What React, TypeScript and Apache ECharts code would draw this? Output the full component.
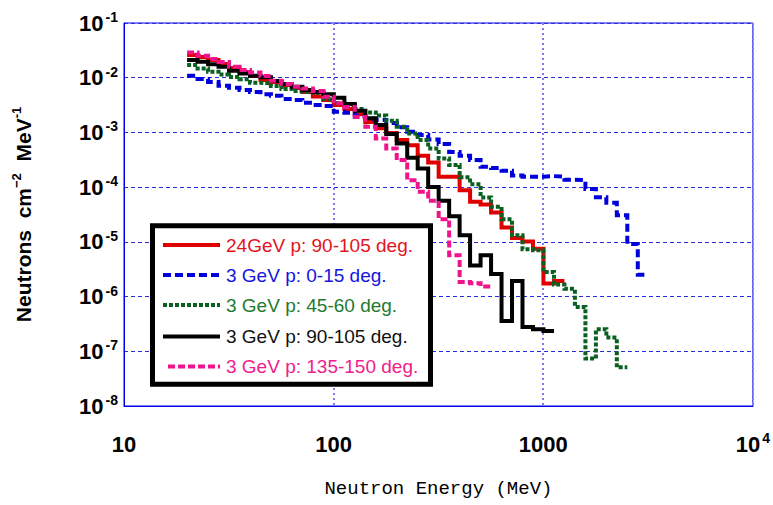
import React, { useEffect, useRef } from 'react';
import * as echarts from 'echarts';

// Histogram bin edges (MeV)
const energyEdges = [
  20, 22.44, 25.18, 28.25, 31.7, 35.57, 39.91, 44.77, 50.24, 56.37, 63.25, 70.96, 79.62, 89.34,
  100.2, 112.5, 126.2, 141.6, 158.9, 178.3, 200, 224.4, 251.8, 282.5, 317.0, 355.7, 399.1, 447.7,
  502.4, 563.7, 632.5, 709.6, 796.2, 893.4, 1002, 1125, 1262, 1416, 1589, 1783, 2000, 2244, 2518,
  2825, 3170,
];

const red24GeV90 = [
  2.6e-2, 2.39e-2, 2.1e-2, 1.78e-2, 1.5e-2, 1.27e-2, 1.07e-2, 9.06e-3, 8.34e-3, 7.35e-3,
  6.47e-3, 5.47e-3, 4.53e-3, 3.91e-3, 3.16e-3, 2.67e-3, 2.16e-3, 1.55e-3, 1.19e-3, 9.73e-4,
  7.24e-4, 5.86e-4, 3.74e-4, 2.83e-4, 1.55e-4, 1.55e-4, 8.81e-5, 5.38e-5, 4.83e-5, 3.44e-5,
  1.83e-5, 1.18e-5, 1.01e-5, 7.45e-6, 1.73e-6, 1.93e-6,
];

const blue3GeV0 = [
  1.09e-2, 9.46e-3, 8.34e-3, 7.13e-3, 6.56e-3, 5.95e-3, 5.47e-3, 4.97e-3, 4.68e-3, 4.07e-3,
  3.91e-3, 3.48e-3, 3.16e-3, 3.03e-3, 2.39e-3, 2.29e-3, 1.99e-3, 1.77e-3, 1.68e-3, 1.48e-3,
  1.25e-3, 1.03e-3, 8.93e-4, 7.46e-4, 6.12e-4, 4.37e-4, 3.74e-4, 3.12e-4, 2.35e-4, 2.23e-4,
  1.99e-4, 1.63e-4, 1.55e-4, 1.55e-4, 1.59e-4, 1.55e-4, 1.36e-4, 1.34e-4, 9.2e-5, 6.56e-5,
  5.16e-5, 3.08e-5, 9.18e-6, 2.51e-6,
];

const green3GeV45 = [
  1.71e-2, 1.48e-2, 1.29e-2, 1.14e-2, 1.03e-2, 9.33e-3, 8.09e-3, 7.89e-3, 7.05e-3, 6.21e-3,
  5.7e-3, 5.47e-3, 5.25e-3, 4.02e-3, 3.44e-3, 3.16e-3, 2.67e-3, 2.31e-3, 2.03e-3, 1.63e-3,
  1.27e-3, 9.6e-4, 7.24e-4, 5.11e-4, 3.35e-4, 2.53e-4, 1.52e-4, 1.13e-4, 6.49e-5, 4.37e-5,
  2.6e-5, 1.32e-5, 7.35e-6, 7.05e-6, 2.82e-6, 1.66e-6, 1.39e-6, 6.47e-7, 7.36e-8, 2.53e-7,
  1.78e-7, 5.1e-8,
];

const black3GeV90 = [
  2.1e-2, 1.96e-2, 1.76e-2, 1.59e-2, 1.34e-2, 1.2e-2, 1.09e-2, 1.02e-2, 8.69e-3, 7.66e-3,
  6.84e-3, 5.95e-3, 5.47e-3, 4.97e-3, 4.3e-3, 3.3e-3, 2.49e-3, 1.81e-3, 1.36e-3, 9.33e-4,
  6.3e-4, 3.44e-4, 2.2e-4, 1.01e-4, 5.62e-5, 2.95e-5, 1.32e-5, 3.7e-6, 5.7e-6, 2.59e-6,
  3.59e-7, 1.93e-6, 2.79e-7, 2.53e-7, 2.36e-7,
];

const pink3GeV135 = [
  2.88e-2, 2.52e-2, 2.19e-2, 1.94e-2, 1.59e-2, 1.38e-2, 1.24e-2, 1.07e-2, 8.81e-3, 7.66e-3,
  6.84e-3, 6.34e-3, 5.7e-3, 4.49e-3, 3.4e-3, 2.91e-3, 1.91e-3, 1.27e-3, 7.78e-4, 5.11e-4,
  3.12e-4, 1.34e-4, 8.2e-5, 5.62e-5, 2.6e-5, 5.7e-6, 1.85e-6, 1.75e-6, 1.53e-6,
];

const seriesNames = [
  '24GeV p: 90-105 deg.',
  '3 GeV p: 0-15 deg.',
  '3 GeV p: 45-60 deg.',
  '3 GeV p: 90-105 deg.',
  '3 GeV p: 135-150 deg.',
];

const FONT = '"Liberation Sans", Arial, sans-serif';

function steps(vals: number[]) {
  const d: number[][] = vals.map((v, i) => [energyEdges[i], v]);
  d.push([energyEdges[vals.length], vals[vals.length - 1]]);
  return d;
}

const seriesDefs = [
  { name: seriesNames[0], data: red24GeV90, color: '#e00000', dash: 'solid' as any, text: '#e2141c' },
  { name: seriesNames[1], data: blue3GeV0, color: '#0000dd', dash: [8, 4], text: '#1414e0' },
  { name: seriesNames[2], data: green3GeV45, color: '#0a6020', dash: [4, 2], text: '#1f7a30' },
  { name: seriesNames[3], data: black3GeV90, color: '#000000', dash: 'solid' as any, text: '#111111' },
  { name: seriesNames[4], data: pink3GeV135, color: '#f0148c', dash: [7, 3], text: '#f0208c' },
];

export default function App() {
  const ref = useRef<HTMLDivElement>(null);
  useEffect(() => {
    document.body.style.margin = '0';
    const chart = echarts.init(ref.current!, null, { renderer: 'svg' });
    const legendY = [245, 275, 305, 336.5, 366.5];
    const legendEls: any[] = [
      {
        type: 'rect',
        shape: { x: 152.5, y: 225.8, width: 278, height: 158.4 },
        style: { fill: '#ffffff', stroke: '#000000', lineWidth: 5 },
        z: 100,
      },
    ];
    seriesDefs.forEach((s, i) => {
      legendEls.push({
        type: 'line',
        shape: { x1: i === 4 ? 168 : 163, y1: legendY[i], x2: 220, y2: legendY[i] },
        style: {
          stroke: s.color,
          lineWidth: 4,
          lineDash: Array.isArray(s.dash) ? s.dash : null,
        },
        z: 101,
      });
      legendEls.push({
        type: 'text',
        x: 226,
        y: legendY[i],
        style: {
          text: s.name,
          fill: s.text,
          fontSize: 19,
          fontFamily: FONT,
          verticalAlign: 'middle',
          align: 'left',
        },
        z: 101,
      });
    });

    const supRich = {
      b: { fontSize: 22, fontWeight: 'bold', fontFamily: FONT, color: '#000', lineHeight: 26 },
      s: {
        fontSize: 14,
        fontWeight: 'bold',
        fontFamily: FONT,
        color: '#000',
        verticalAlign: 'top',
        lineHeight: 12,
        padding: [0, 0, 0, 2],
      },
    };

    chart.setOption({
      animation: false,
      backgroundColor: '#ffffff',
      grid: {
        left: 124,
        right: 17,
        top: 23,
        bottom: 99,
        show: true,
        borderColor: '#0000ee',
        borderWidth: 1,
      },
      xAxis: {
        type: 'log',
        logBase: 10,
        min: 10,
        max: 10000,
        name: 'Neutron Energy (MeV)',
        nameLocation: 'middle',
        nameGap: 73,
        nameTextStyle: { fontFamily: '"Liberation Mono", "Courier New", monospace', fontSize: 19, color: '#000' },
        axisLine: { show: true, lineStyle: { color: '#0000ee', width: 1 } },
        axisTick: { show: false },
        minorTick: { show: false },
        splitLine: { show: true, lineStyle: { color: '#7c7cee', width: 2, type: [2, 3] } },
        axisLabel: {
          margin: 25,
          formatter: (v: number) => {
            const e = Math.round(Math.log10(v));
            if (e >= 4) return '{b|10}{s|' + e + '}';
            return '{b|' + Math.round(v) + '}';
          },
          rich: supRich,
        },
      },
      yAxis: {
        type: 'log',
        logBase: 10,
        min: 1e-8,
        max: 1e-1,
        name: '{n|Neutrons  cm}{s|−2}{n|  MeV}{s|-1}',
        nameLocation: 'middle',
        nameGap: 88,
        nameTextStyle: {
          rich: {
            n: { fontSize: 21, fontWeight: 'bold', fontFamily: FONT, color: '#000', lineHeight: 26 },
            s: { fontSize: 13, fontWeight: 'bold', fontFamily: FONT, color: '#000', verticalAlign: 'top', lineHeight: 13 },
          },
        },
        axisLine: { show: true, lineStyle: { color: '#0000ee', width: 1 } },
        axisTick: { show: false },
        minorTick: { show: false },
        splitLine: { show: true, lineStyle: { color: '#2a2ae0', width: 1.2, type: [4, 3] } },
        axisLabel: {
          margin: 6,
          formatter: (v: number) => {
            const e = Math.round(Math.log10(v));
            return '{b|10}{s|' + e + '}';
          },
          rich: supRich,
        },
      },
      series: seriesDefs.map((s, i) => ({
        name: s.name,
        type: 'line',
        step: 'end',
        symbol: 'none',
        data: steps(s.data),
        lineStyle: { color: s.color, width: 4, type: s.dash, join: 'miter', cap: 'butt' },
        z: 2 + i,
      })),
      graphic: { elements: legendEls },
    });
    return () => chart.dispose();
  }, []);
  return <div ref={ref} style={{ width: 773, height: 505, position: 'absolute', left: 0, top: 0 }} />;
}
